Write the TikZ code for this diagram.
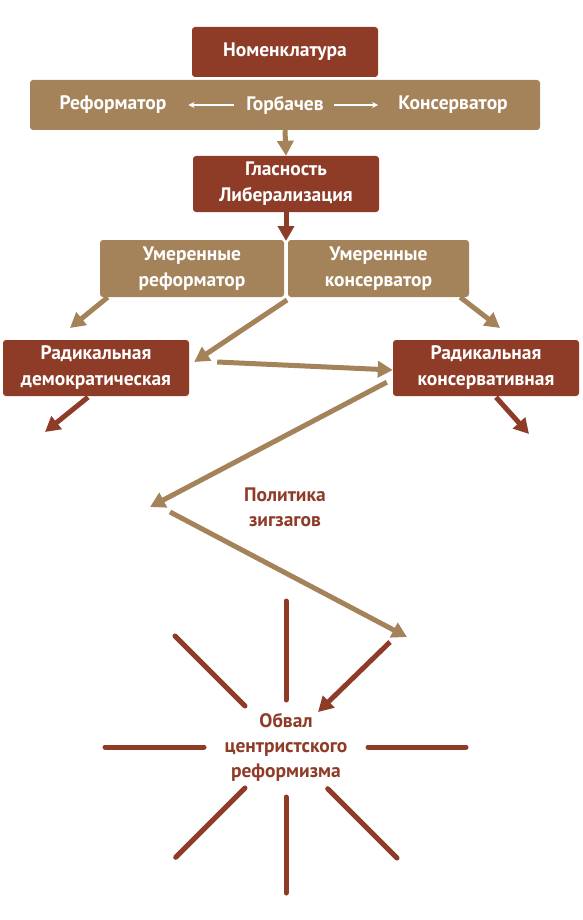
\documentclass[tikz,border=0pt]{standalone}
\usepackage{fontspec}
\setmainfont{PT Sans}
\usetikzlibrary{arrows.meta,positioning,calc}
\definecolor{rust}{HTML}{8E3B27}
\definecolor{tan}{HTML}{A4835A}

\begin{document}
\begin{tikzpicture}[x=1pt, y=-1pt,
    redbox/.style={fill=rust, rounded corners=3pt, text=white, align=center, inner sep=0pt, font=\bfseries\fontsize{19.5}{26}\selectfont},
    tanbox/.style={redbox, fill=tan},
    wtxt/.style={text=white, inner sep=0pt, font=\bfseries\fontsize{19.5}{26}\selectfont},
    lbl/.style={text=rust, align=center, inner sep=0pt, font=\bfseries\fontsize{19.5}{25}\selectfont},
    tarr/.style={draw=tan, line width=5pt, -{Triangle[length=15pt, width=16pt]}},
    rarr/.style={tarr, draw=rust},
    warr/.style={draw=white, line width=1.3pt, -{Stealth[length=6pt, width=6pt]}},
    ray/.style={draw=rust, line width=5pt, line cap=round}
]
\useasboundingbox (0,0) rectangle (582,920);

% boxes
\node[redbox, minimum width=186pt, minimum height=50pt] (nom) at (285,52) {Номенклатура};
\node[tanbox, minimum width=510pt, minimum height=50pt] (band) at (285,105) {};
\node[wtxt] (ref) at (113,105) {Реформатор};
\node[wtxt] (gorb) at (285,105) {Горбачев};
\node[wtxt] (kons) at (453,105) {Консерватор};
\node[redbox, minimum width=186pt, minimum height=56pt] (glas) at (286,184) {Гласность\\Либерализация};
\node[tanbox, minimum width=184pt, minimum height=57pt] (umref) at (192,268.5) {Умеренные\\реформатор};
\node[tanbox, minimum width=181pt, minimum height=57pt] (umkons) at (378.5,268.5) {Умеренные\\консерватор};
\node[redbox, minimum width=186pt, minimum height=56pt] (raddem) at (96,368) {Радикальная\\демократическая};
\node[redbox, minimum width=186pt, minimum height=56pt] (radkons) at (486,368) {Радикальная\\консервативная};
\node[lbl] (zig) at (285,507) {Политика\\зигзагов};
\node[lbl] (fall) at (286,747) {Обвал\\центристского\\реформизма};

% free ends
\coordinate (split) at (286,241);
\coordinate (dl) at (70,328);
\coordinate (dr) at (500,328);
\coordinate (outl) at (45,432);
\coordinate (outr) at (529,434);
\coordinate (zl) at (150,507);
\coordinate (zs) at (170,512);
\coordinate (zr) at (407,637);
\coordinate (fs) at (390,642);
\coordinate (fe) at (318,712);

% arrows
\draw[warr] ([xshift=-12pt]gorb.west) -- ([xshift=22pt]ref.east);
\draw[warr] ([xshift=10pt]gorb.east) -- ([xshift=-20pt]kons.west);
\draw[tarr] (band.south) -- (glas.north);
\draw[rarr] (glas.south) -- (split);
\draw[tarr] ($(umref.south west)+(8,0)$) -- (dl);
\draw[tarr] ($(split)+(1,59)$) -- ($(raddem.east)+(5,-6)$);
\draw[tarr] ($(umkons.south east)+(-9,0)$) -- (dr);
\draw[tarr] ($(raddem.east)+(28,-6)$) -- ($(radkons.west)+(0,2)$);
\draw[rarr] ($(raddem.south)+(-8,1)$) -- (outl);
\draw[rarr] ($(radkons.south)+(10,1)$) -- (outr);
\draw[tarr] ($(radkons.south west)+(-6,-14)$) -- (zl);
\draw[tarr] (zs) -- (zr);
\draw[rarr] (fs) -- (fe);

% rays
\foreach \a/\ri/\ro in {0/82/180, 45/59/157, 90/50/146, 135/58/156, 180/82/181, 225/58/157, 270/47/146}
  \draw[ray] ($(fall)+(\a:\ri)$) -- ($(fall)+(\a:\ro)$);
\end{tikzpicture}
\end{document}
